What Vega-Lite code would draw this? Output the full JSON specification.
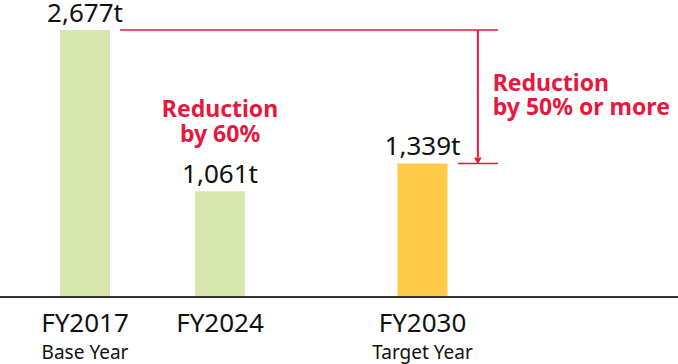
{
  "$schema": "https://vega.github.io/schema/vega-lite/v6.json",
  "width": 678,
  "height": 297,
  "autosize": {"type": "none"},
  "padding": {"left": 0, "right": 0, "top": 0, "bottom": 67},
  "background": "white",
  "config": {"view": {"stroke": null}, "font": "Noto Sans"},
  "data": {
    "values": [
      {"fy": "FY2017", "sub": "Base Year", "value": 2677, "label": "2,677t", "kind": "actual"},
      {"fy": "FY2024", "sub": "", "value": 1061, "label": "1,061t", "kind": "actual"},
      {"fy": "FY2030", "sub": "Target Year", "value": 1339, "label": "1,339t", "kind": "target"}
    ]
  },
  "encoding": {
    "x": {
      "field": "fy",
      "type": "nominal",
      "scale": {
        "type": "band",
        "domain": ["FY2017", "g1", "FY2024", "g2", "g3", "FY2030", "g4"],
        "range": [51.25, 523.75],
        "paddingInner": 0,
        "paddingOuter": 0
      },
      "axis": null
    }
  },
  "layer": [
    {
      "mark": {"type": "bar", "width": 50},
      "encoding": {
        "y": {"field": "value", "type": "quantitative", "scale": {"domain": [0, 2978], "nice": false}, "axis": null},
        "color": {"field": "kind", "type": "nominal", "scale": {"domain": ["actual", "target"], "range": ["#d7e6ac", "#ffc94a"]}, "legend": null}
      }
    },
    {
      "mark": {"type": "text", "baseline": "alphabetic", "dy": -8, "fontSize": 26, "color": "#111111"},
      "encoding": {
        "y": {"field": "value", "type": "quantitative"},
        "text": {"field": "label"}
      }
    },
    {
      "mark": {"type": "text", "baseline": "alphabetic", "dy": 35, "fontSize": 26, "color": "#111111"},
      "encoding": {
        "y": {"datum": 0},
        "text": {"field": "fy"}
      }
    },
    {
      "mark": {"type": "text", "baseline": "alphabetic", "dy": 62, "fontSize": 19, "color": "#111111"},
      "encoding": {
        "y": {"datum": 0},
        "text": {"field": "sub"}
      }
    },
    {
      "data": {"values": [{}]},
      "mark": {"type": "rule", "color": "#333333", "strokeWidth": 2},
      "encoding": {"x": null, "y": {"datum": 0}}
    },
    {
      "data": {"values": [{}]},
      "mark": {"type": "rule", "color": "#e8173e", "strokeWidth": 1.5},
      "encoding": {
        "x": {"datum": "g1", "bandPosition": 0.02},
        "x2": {"datum": "g4", "bandPosition": 0.62},
        "y": {"datum": 2677}
      }
    },
    {
      "data": {"values": [{}]},
      "mark": {"type": "rule", "color": "#e8173e", "strokeWidth": 1.5},
      "encoding": {
        "x": {"datum": "g4", "bandPosition": 0.025},
        "x2": {"datum": "g4", "bandPosition": 0.62},
        "y": {"datum": 1339}
      }
    },
    {
      "data": {"values": [{}]},
      "mark": {"type": "rule", "color": "#e8173e", "strokeWidth": 2},
      "encoding": {
        "x": {"datum": "g4", "bandPosition": 0.32},
        "y": {"datum": 2677},
        "y2": {"datum": 1400}
      }
    },
    {
      "data": {"values": [{}]},
      "mark": {"type": "point", "shape": "triangle-down", "filled": true, "color": "#e8173e", "size": 60, "opacity": 1},
      "encoding": {
        "x": {"datum": "g4", "bandPosition": 0.32},
        "y": {"datum": 1364}
      }
    },
    {
      "data": {"values": [{"t": "Reduction", "v": 2066}, {"t": "by 50% or more", "v": 1824}]},
      "mark": {"type": "text", "align": "left", "baseline": "alphabetic", "fontSize": 23, "fontWeight": "bold", "color": "#e8173e"},
      "encoding": {
        "x": {"datum": "g4", "bandPosition": 0.54},
        "y": {"field": "v", "type": "quantitative"},
        "text": {"field": "t"}
      }
    },
    {
      "data": {"values": [{"t": "Reduction", "v": 1805}, {"t": "by 60%", "v": 1555}]},
      "mark": {"type": "text", "align": "center", "baseline": "alphabetic", "fontSize": 23, "fontWeight": "bold", "color": "#e8173e"},
      "encoding": {
        "x": {"datum": "FY2024"},
        "y": {"field": "v", "type": "quantitative"},
        "text": {"field": "t"}
      }
    }
  ]
}
